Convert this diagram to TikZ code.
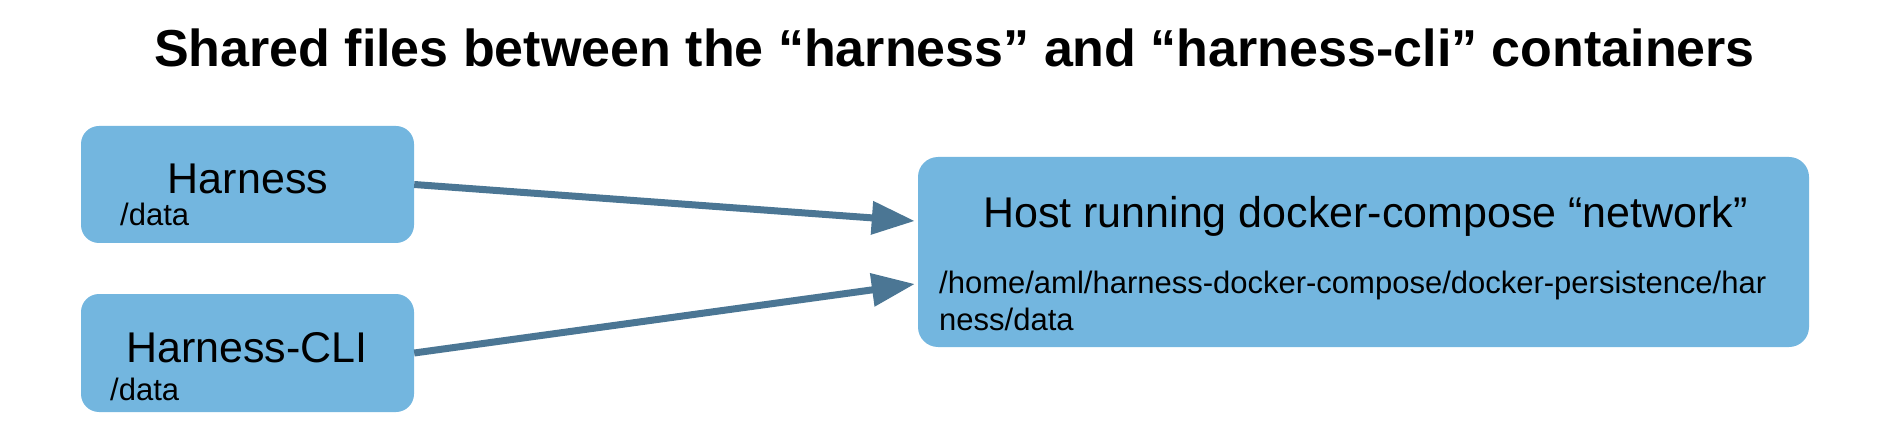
\documentclass[tikz,border=0pt]{standalone}
\usepackage{fontspec}
\setmainfont{Liberation Sans}
\usetikzlibrary{arrows.meta}
\definecolor{boxblue}{HTML}{73B6DF}
\definecolor{arrowblue}{HTML}{4B7694}
\tikzset{
  box/.style={fill=boxblue, draw=none, rounded corners=18pt, inner sep=0pt, rectangle},
  bigtxt/.style={font=\fontsize{43}{50}\selectfont, inner sep=0pt, text=black},
  smalltxt/.style={font=\fontsize{31}{37}\selectfont, inner sep=0pt, text=black},
  arr/.style={draw=arrowblue, line width=7pt, -{Triangle[length=43pt,width=32pt]}},
}
\begin{document}
\begin{tikzpicture}[x=1pt,y=1pt]
\useasboundingbox (0,0) rectangle (1886,442);
% title
\node[anchor=base, inner sep=0pt, font=\fontsize{52}{60}\selectfont\bfseries] (title) at (954.5,375)
  {Shared files between the “harness” and “harness-cli” containers};
% boxes
\node[box, minimum width=333pt, minimum height=117pt] (harness) at (247.5,257.5) {};
\node[box, minimum width=333pt, minimum height=118pt] (cli) at (247.5,89) {};
\node[box, rounded corners=20pt, minimum width=891pt, minimum height=190pt] (host) at (1363.5,190) {};
% texts
\node[bigtxt, anchor=base] (harnesst) at (248,248) {Harness};
\node[smalltxt, anchor=base west] (harnessd) at (120,216) {/data};
\node[bigtxt, anchor=base] (clit) at (247,80) {Harness-CLI};
\node[smalltxt, anchor=base west] (clid) at (110,42) {/data};
\node[bigtxt, anchor=base] (hostt) at (1365.5,214) {Host running docker-compose “network”};
\node[smalltxt, anchor=base west] (hostp1) at (939,149) {/home/aml/harness-docker-compose/docker-persistence/har};
\node[smalltxt, anchor=base west] (hostp2) at (939,112) {ness/data};
% arrows
\draw[arr] (harness.east) -- ([xshift=-3pt,yshift=31pt]host.west);
\draw[arr] (cli.east) -- ([xshift=-3pt,yshift=-32pt]host.west);
\end{tikzpicture}
\end{document}
